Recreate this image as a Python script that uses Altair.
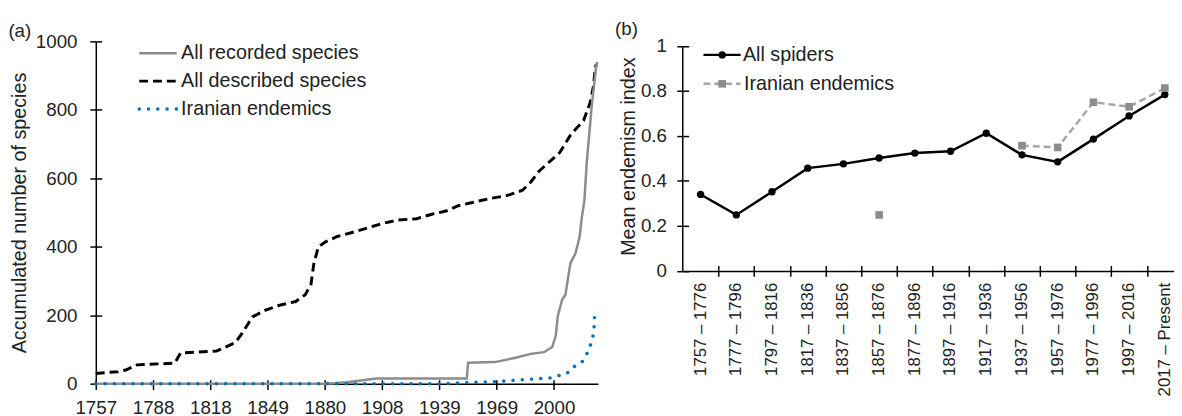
import json
import altair as alt
import pandas as pd

FONT = "Liberation Sans"
TXT = "#222222"

# ---------------- Panel (a) data ----------------
# x = position on the category axis (one unit per category, a labelled tick every 30)
year_ticks = [0, 30, 60, 90, 120, 150, 180, 210, 240]
year_labels = ["1757", "1788", "1818", "1849", "1880", "1908", "1939", "1969", "2000"]
count_ticks = [0, 200, 400, 600, 800, 1000]

described_x = [0, 11.7, 15.7, 21.6, 41.4, 44.4, 63.2, 65.2, 73.1, 77, 82, 88.9, 96.8,
               104.7, 109.7, 112.7, 114.2, 116.6, 120.6, 126.5, 136.4, 145.3, 150.2,
               158.2, 168.1, 176, 183.9, 189.9, 197.8, 205.7, 215.6, 223.5, 228, 232,
               238, 243, 248.6, 255.5, 259, 260.7, 261.5, 262.1]
described_y = [30, 35, 40, 55, 60, 90, 95, 100, 120, 150, 195, 215, 230, 240, 260, 290,
               350, 400, 415, 430, 445, 460, 468, 478, 482, 495, 505, 520, 530, 540, 550,
               565, 590, 620, 650, 675, 726, 769, 822, 870, 918, 933]

recorded_x = [0, 121, 131.4, 140, 146.9, 194.3, 195, 209, 219.3, 227.9, 234.8, 239.1,
              240.9, 242, 244.3, 246, 248.6, 251.2, 253.4, 254.6, 255.9, 257.2, 259.8,
              262.1, 262.7]
recorded_y = [0, 0, 4, 10, 15, 15, 61, 63, 75, 87, 92, 107, 140, 198, 246, 260, 352, 380,
              428, 486, 534, 649, 813, 928, 940]

endemic_x = [0, 183, 194, 209.5, 219.3, 233.1, 238.3, 243.4, 247.7, 250.3, 254.6, 256.9,
             259, 260.3, 261, 261.2]
endemic_y = [0, 0, 3, 6, 10, 15, 17, 25, 33, 49, 63, 84, 111, 135, 164, 193]

# ---------------- Panel (b) data ----------------
periods = ["1757 – 1776", "1777 – 1796", "1797 – 1816", "1817 – 1836", "1837 – 1856",
           "1857 – 1876", "1877 – 1896", "1897 – 1916", "1917 – 1936", "1937 – 1956",
           "1957 – 1976", "1977 – 1996", "1997 – 2016", "2017 – Present"]
all_spiders = [0.34, 0.249, 0.352, 0.457, 0.476, 0.502, 0.524, 0.532, 0.612, 0.516,
               0.485, 0.586, 0.689, 0.784]
iran_endemics = [None, None, None, None, None, 0.249, None, None, None, 0.557, 0.549,
                 0.750, 0.730, 0.813]
index_ticks = [0, 0.2, 0.4, 0.6, 0.8, 1]
period_bounds = [i + 0.5 for i in range(13)]

# common axis look: outward tick + a short grid stub inward = a tick crossing the axis
def axis(**kw):
    base = dict(tickColor="black", tickWidth=1.5, gridColor="black", gridWidth=1.5,
                grid=True, labelFlush=False, labelOverlap=False, domainColor="black",
                domainWidth=1.5)
    base.update(kw)
    return alt.Axis(**base)

# ---------------- Panel (a) ----------------
WA, HA = 509, 347
xa_scale = alt.Scale(domain=[0, 263], nice=False, zero=False)
ya_scale = alt.Scale(domain=[0, 1000], nice=False)
year_expr = json.dumps(year_labels) + "[round(datum.value / 30)]"

xa_axis = axis(values=year_ticks, labelExpr=year_expr, tickSize=6,
               gridDash=[4, HA - 4], gridDashOffset=4,
               labelPadding=9, title=None, labelFontSize=19)
ya_axis = axis(values=count_ticks, format="d", tickSize=6, gridDash=[6, 3000],
               labelPadding=13, title="Accumulated number of species",
               titleFontSize=20, titlePadding=6, labelFontSize=19)

df_desc = pd.DataFrame({"x": described_x, "y": described_y})
df_rec = pd.DataFrame({"x": recorded_x, "y": recorded_y})
df_end = pd.DataFrame({"x": endemic_x, "y": endemic_y})

line_desc = alt.Chart(df_desc).mark_line(
    color="black", strokeWidth=3, strokeDash=[9, 5]
).encode(x=alt.X("x:Q", scale=xa_scale, axis=xa_axis),
         y=alt.Y("y:Q", scale=ya_scale, axis=ya_axis))
line_rec = alt.Chart(df_rec).mark_line(color="#8c8c8c", strokeWidth=2.5).encode(
    x=alt.X("x:Q", scale=xa_scale), y=alt.Y("y:Q", scale=ya_scale))
line_end = alt.Chart(df_end).mark_line(
    color="#0070c0", strokeWidth=3.5, strokeDash=[0.1, 9.3], strokeCap="round"
).encode(x=alt.X("x:Q", scale=xa_scale), y=alt.Y("y:Q", scale=ya_scale))

one = pd.DataFrame({"k": [0]})
leg_a = []
leg_rows = [("All recorded species", {"color": "#8c8c8c", "strokeWidth": 2.5}),
            ("All described species", {"color": "black", "strokeWidth": 3, "strokeDash": [9, 5]}),
            ("Iranian endemics", {"color": "#0070c0", "strokeWidth": 3.5,
                                  "strokeDash": [0.1, 9.3], "strokeCap": "round"})]
for i, (lab, sty) in enumerate(leg_rows):
    yy = 12 + i * 28.3
    leg_a.append(alt.Chart(one).mark_rule(**sty).encode(
        x=alt.value(44), x2=alt.value(82), y=alt.value(yy)))
    leg_a.append(alt.Chart(one).mark_text(
        align="left", baseline="middle", fontSize=20, font=FONT, color=TXT
    ).encode(x=alt.value(86.5), y=alt.value(yy), text=alt.value(lab)))

tag_a = alt.Chart(one).mark_text(fontSize=19, font=FONT, color=TXT).encode(
    x=alt.value(-77), y=alt.value(-10), text=alt.value("(a)"))

panel_a = alt.layer(line_desc, line_rec, line_end, *leg_a, tag_a
                    ).properties(width=WA, height=HA)

# ---------------- Panel (b) ----------------
HB = 232.7
YB_MAX = HB / 228.0
WB = 13.75 * 36.2
xb_scale = alt.Scale(domain=[-0.5, 13.25], nice=False, zero=False)
yb_scale = alt.Scale(domain=[0, YB_MAX], nice=False)

xb_axis = axis(values=period_bounds, labels=False, tickSize=5.5,
               gridDash=[5.5, HB - 5.5], gridDashOffset=5.5, title=None)
yb_axis = axis(values=index_ticks, format="~g", tickSize=6, gridDash=[6, 3000],
               labelPadding=10.5, title="Mean endemism index", titleFontSize=20,
               titlePadding=2, domain=False, labelFontSize=19)

df_b = pd.DataFrame({"i": list(range(14)), "v": all_spiders, "label": periods})
df_e = pd.DataFrame({"i": list(range(14)), "v": iran_endemics})

e_line = alt.Chart(df_e).mark_line(color="#a6a6a6", strokeWidth=2.5, strokeDash=[7, 4],
                                   invalid="break-paths-show-domains").encode(
    x=alt.X("i:Q", scale=xb_scale, axis=xb_axis),
    y=alt.Y("v:Q", scale=yb_scale, axis=yb_axis))
b_line = alt.Chart(df_b).mark_line(color="black", strokeWidth=2.5).encode(
    x=alt.X("i:Q", scale=xb_scale), y=alt.Y("v:Q", scale=yb_scale))
b_pts = alt.Chart(df_b).mark_point(filled=True, shape="circle", size=55, color="black",
                                   opacity=1).encode(
    x=alt.X("i:Q", scale=xb_scale), y=alt.Y("v:Q", scale=yb_scale))
e_pts = alt.Chart(df_e).mark_point(filled=True, shape="square", size=60, color="#8c8c8c",
                                   opacity=1).encode(
    x=alt.X("i:Q", scale=xb_scale), y=alt.Y("v:Q", scale=yb_scale))
b_labels = alt.Chart(df_b).mark_text(angle=270, align="right", baseline="middle",
                                     fontSize=17, font=FONT, color=TXT).encode(
    x=alt.X("i:Q", scale=xb_scale), y=alt.value(HB + 12), text="label:N")

yb_axisline = alt.Chart(pd.DataFrame({"v": [0], "v2": [1]})).mark_rule(
    color="black", strokeWidth=1.5).encode(
    x=alt.value(0), y=alt.Y("v:Q", scale=yb_scale), y2="v2:Q")

leg_b = []
by1, by2 = 13.7, 43
leg_b.append(alt.Chart(one).mark_rule(color="black", strokeWidth=2.5).encode(
    x=alt.value(21), x2=alt.value(58.7), y=alt.value(by1)))
leg_b.append(alt.Chart(one).mark_point(filled=True, shape="circle", size=55, color="black",
                                       opacity=1).encode(
    x=alt.value(40), y=alt.value(by1)))
leg_b.append(alt.Chart(one).mark_text(align="left", baseline="middle", fontSize=20,
                                      font=FONT, color=TXT).encode(
    x=alt.value(61), y=alt.value(by1), text=alt.value("All spiders")))
leg_b.append(alt.Chart(one).mark_rule(color="#a6a6a6", strokeWidth=2.5,
                                      strokeDash=[7, 4]).encode(
    x=alt.value(21), x2=alt.value(58.7), y=alt.value(by2)))
leg_b.append(alt.Chart(one).mark_point(filled=True, shape="square", size=60,
                                       color="#8c8c8c", opacity=1).encode(
    x=alt.value(40), y=alt.value(by2)))
leg_b.append(alt.Chart(one).mark_text(align="left", baseline="middle", fontSize=20,
                                      font=FONT, color=TXT).encode(
    x=alt.value(62), y=alt.value(by2), text=alt.value("Iranian endemics")))

tag_b = alt.Chart(one).mark_text(fontSize=19, font=FONT, color=TXT).encode(
    x=alt.value(-57), y=alt.value(-12), text=alt.value("(b)"))

panel_b = alt.layer(e_line, b_line, b_pts, e_pts, b_labels, yb_axisline,
                    *leg_b, tag_b).properties(width=WB, height=HB)

chart = alt.hconcat(panel_a, panel_b, spacing=12).properties(
    padding={"left": 0, "top": 10, "right": 0, "bottom": 0}
).configure_view(stroke=None).configure_axis(
    labelFont=FONT, titleFont=FONT, labelColor=TXT, titleColor=TXT,
    titleFontWeight="normal"
)

chart.save("out.html", embed_options={"renderer": "svg", "actions": False})
